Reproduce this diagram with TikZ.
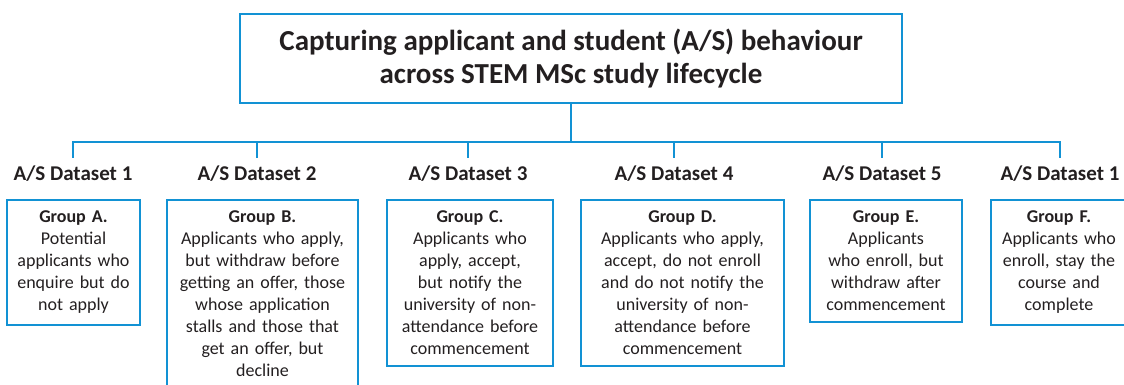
\documentclass[tikz,border=0pt]{standalone}
\usepackage{fontspec}
\setmainfont{Carlito}
\definecolor{boxblue}{RGB}{18,146,212}
\definecolor{ink}{RGB}{35,31,32}
\begin{document}
\begin{tikzpicture}[x=1pt,y=-1pt,
  link/.style={draw=boxblue,line width=2pt},
  headbox/.style={draw=boxblue,line width=2pt,minimum width=662pt,minimum height=89pt,
    align=center,text=ink,font=\fontsize{29}{33}\selectfont\bfseries},
  dslabel/.style={text=ink,font=\fontsize{21}{22}\selectfont\bfseries,inner sep=0pt,
    minimum height=30pt,text height=14pt,text depth=0pt},
  groupbox/.style={draw=boxblue,line width=2pt,anchor=north,align=center,text=ink,
    inner xsep=4pt,inner ysep=11pt,font=\fontsize{18}{22}\selectfont}]
\useasboundingbox (0,0) rectangle (1124,385);

\node [headbox] at (571,58.5) (title) {Capturing applicant and student (A/S) behaviour\\across STEM MSc study lifecycle};
\coordinate (hub) at (571,142);

\node [dslabel] at (73,173) (ds1) {A/S Dataset 1};
\node [dslabel] at (257,173) (ds2) {A/S Dataset 2};
\node [dslabel] at (468,173) (ds3) {A/S Dataset 3};
\node [dslabel] at (674,173) (ds4) {A/S Dataset 4};
\node [dslabel] at (882,173) (ds5) {A/S Dataset 5};
\node [dslabel] at (1060,173) (ds6) {A/S Dataset 1};

\draw [link] (title.south) -- (hub);
\foreach \i in {1,...,6}
  \draw [link] (ds\i.north) |- (hub);

\node [groupbox,text width=125pt] at (73.5,199) (ga) {\textbf{Group A.}\\Potential\\applicants who\\enquire but do\\not apply};
\node [groupbox,text width=183pt] at (262.5,199) (gb) {\textbf{Group B.}\\Applicants who apply,\\but withdraw before\\getting an offer, those\\whose application\\stalls and those that\\get an offer, but\\decline};
\node [groupbox,text width=158pt] at (470,199) (gc) {\textbf{Group C.}\\Applicants who\\apply, accept,\\but notify the\\university of non-\\attendance before\\commencement};
\node [groupbox,text width=195pt] at (682.5,199) (gd) {\textbf{Group D.}\\Applicants who apply,\\accept, do not enroll\\and do not notify the\\university of non-\\attendance before\\commencement};
\node [groupbox,text width=144pt] at (886,199) (ge) {\textbf{Group E.}\\Applicants\\who enroll, but\\withdraw after\\commencement};
\node [groupbox,text width=128pt] at (1059,199) (gf) {\textbf{Group F.}\\Applicants who\\enroll, stay the\\course and\\complete};
\end{tikzpicture}
\end{document}
